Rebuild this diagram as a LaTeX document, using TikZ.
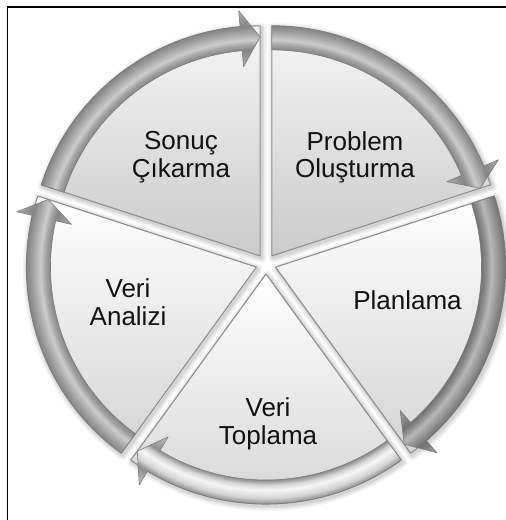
\documentclass[tikz,border=0pt]{standalone}
\usepackage{fontspec}
\setmainfont{Liberation Sans}
\usetikzlibrary{calc}

% arrow ring colours (medium, dark, light variants)
\definecolor{rmHead}{HTML}{AEAEAE}
\definecolor{rmEdge}{HTML}{858585}
\definecolor{rmMid}{HTML}{A2A2A2}
\definecolor{rmRidge}{HTML}{CCCCCC}
\definecolor{rdHead}{HTML}{A0A0A0}
\definecolor{rdEdge}{HTML}{727272}
\definecolor{rdMid}{HTML}{909090}
\definecolor{rdRidge}{HTML}{B8B8B8}
\definecolor{rlHead}{HTML}{C4C4C4}
\definecolor{rlEdge}{HTML}{8E8E8E}
\definecolor{rlMid}{HTML}{D4D4D4}
\definecolor{rlRidge}{HTML}{F6F6F6}
\definecolor{arrowLine}{HTML}{7A7A7A}
% segment colours
\definecolor{segTopA}{HTML}{F5F5F5}
\definecolor{segTopB}{HTML}{CBCBCB}
\definecolor{segLowA}{HTML}{FFFFFF}
\definecolor{segLowB}{HTML}{D4D4D4}
\definecolor{segEdge}{HTML}{8E8E8E}
\definecolor{labelInk}{HTML}{111111}

% radial shadings: a circle of radius 250 maps to 25bp, so 1bp = 10 units
\pgfdeclareradialshading{ringmid}{\pgfpoint{0bp}{0bp}}{%
  color(0bp)=(rmHead); color(19.0bp)=(rmHead); color(20.6bp)=(rmEdge);
  color(21.1bp)=(rmMid); color(21.6bp)=(rmRidge); color(22.4bp)=(rmMid);
  color(23.0bp)=(rmEdge); color(24.6bp)=(rmHead); color(50bp)=(rmHead)}
\pgfdeclareradialshading{ringdark}{\pgfpoint{0bp}{0bp}}{%
  color(0bp)=(rdHead); color(19.0bp)=(rdHead); color(20.6bp)=(rdEdge);
  color(21.1bp)=(rdMid); color(21.6bp)=(rdRidge); color(22.4bp)=(rdMid);
  color(23.0bp)=(rdEdge); color(24.6bp)=(rdHead); color(50bp)=(rdHead)}
\pgfdeclareradialshading{ringlight}{\pgfpoint{0bp}{0bp}}{%
  color(0bp)=(rlHead); color(19.0bp)=(rlHead); color(20.6bp)=(rlEdge);
  color(21.1bp)=(rlMid); color(21.6bp)=(rlRidge); color(22.4bp)=(rlMid);
  color(23.0bp)=(rlEdge); color(24.6bp)=(rlHead); color(50bp)=(rlHead)}

% ring geometry
\def\rin{206pt}
\def\rout{230pt}
\def\rhi{190pt}
\def\rho{246pt}
\def\rtip{219pt}
\def\headang{5}

% outline of one curved arrow running clockwise from #1 to #2 (degrees)
\newcommand\arrowoutline[2]{%
  (#1:\rin) arc[start angle=#1, end angle=#2+\headang, radius=\rin]
  -- (#2+\headang:\rhi) -- (#2:\rtip) -- (#2+\headang:\rho)
  -- (#2+\headang:\rout) arc[start angle=#2+\headang, end angle=#1, radius=\rout]
  -- cycle}
% outline of one pie segment from #1 to #2 (degrees)
\newcommand\segoutline[2]{%
  (0,0) -- (#1:\rout) arc[start angle=#1, end angle=#2, radius=\rout] -- cycle}
% soft shadow under a pie segment about centre #1
\newcommand\segshadow[3]{%
  \begin{scope}[shift={(#1)}, shift={(1.5pt,-2pt)}]
    \foreach \w in {10,7,4.5,2.5}
      \draw[black, opacity=0.045, line width=\w pt, line join=round] \segoutline{#2}{#3};
  \end{scope}}
% shaded curved arrow about centre #1, from #2 to #3, shading #4
\newcommand\cyclearrow[4]{%
  \begin{scope}[shift={(#1)}]
    \begin{scope}
      \clip \arrowoutline{#2}{#3};
      \shade[shading=#4] (0,0) circle (250pt);
    \end{scope}
    \draw[arrowedge] \arrowoutline{#2}{#3};
  \end{scope}}

\tikzset{
  upperseg/.style={top color=segTopA, bottom color=segTopB, draw=segEdge, line width=1.1pt, line join=round},
  lowerseg/.style={top color=segLowA, bottom color=segLowB, draw=segEdge, line width=1.1pt, line join=round},
  arrowedge/.style={draw=arrowLine, line width=0.6pt, line join=round},
  lbl/.style={align=center, text=labelInk, font=\fontsize{26}{27.5}\selectfont, inner sep=0pt},
  framerule/.style={draw=black, line width=1.2pt}
}

\begin{document}
\begin{tikzpicture}[x=1pt, y=1pt]
  \useasboundingbox (0,0) rectangle (506,520);
  \fill[white] (0,0) rectangle (506,520);

  % centre of the cycle and the exploded segment centres
  \coordinate (C) at (266,256);
  \coordinate (oS) at ($(C)+(126:10pt)$);
  \coordinate (oP) at ($(C)+(54:10pt)$);
  \coordinate (oL) at ($(C)+(-18:10pt)$);
  \coordinate (oT) at ($(C)+(-90:10pt)$);
  \coordinate (oA) at ($(C)+(198:10pt)$);

  % soft shadows
  \segshadow{oS}{90}{162}
  \segshadow{oP}{18}{90}
  \segshadow{oL}{-54}{18}
  \segshadow{oT}{-126}{-54}
  \segshadow{oA}{162}{234}

  % pie segments
  \path[upperseg, shift={(oS)}] \segoutline{90}{162};
  \path[upperseg, shift={(oP)}] \segoutline{18}{90};
  \path[lowerseg, shift={(oL)}] \segoutline{-54}{18};
  \path[lowerseg, shift={(oT)}] \segoutline{-126}{-54};
  \path[lowerseg, shift={(oA)}] \segoutline{162}{234};

  % curved arrows round the outside
  \cyclearrow{oS}{162}{90}{ringmid}
  \cyclearrow{oP}{90}{18}{ringmid}
  \cyclearrow{oL}{18}{-54}{ringdark}
  \cyclearrow{oT}{-54}{-126}{ringlight}
  \cyclearrow{oA}{234}{162}{ringmid}

  % frame
  \draw[framerule] (7.5,0) -- (7.5,513) -- (506,513);

  % labels
  \node[lbl] (sonuc) at (181,363) {Sonuç\\Çıkarma};
  \node[lbl] (problem) at (355,362.5) {Problem\\Oluşturma};
  \node[lbl] (planlama) at (407.5,220) {Planlama};
  \node[lbl] (toplama) at (268,96) {Veri\\Toplama};
  \node[lbl] (analiz) at (128,218) {Veri\\Analizi};
\end{tikzpicture}
\end{document}
